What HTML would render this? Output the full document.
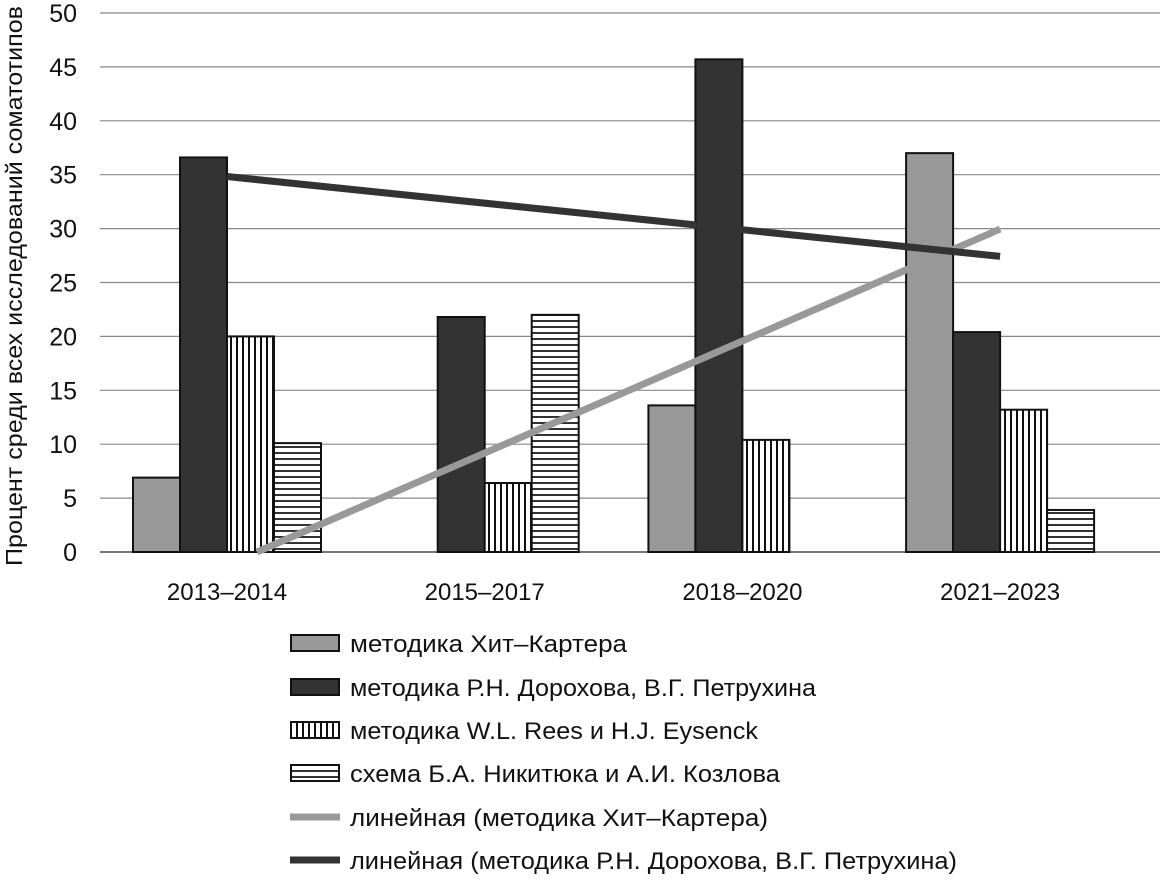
<!DOCTYPE html>
<html><head><meta charset="utf-8"><style>
html,body{margin:0;padding:0;background:#fff;}
svg text{font-family:"Liberation Sans",sans-serif;fill:#111;}
</style></head><body>
<svg id="chart" width="1174" height="880" xmlns="http://www.w3.org/2000/svg">
<defs>
<pattern id="vert" width="6" height="10" patternUnits="userSpaceOnUse"><rect width="6" height="10" fill="#fff"/><rect x="2" width="2" height="10" fill="#111"/></pattern>
<pattern id="horiz" width="10" height="6" patternUnits="userSpaceOnUse"><rect width="10" height="6" fill="#fff"/><rect y="2" width="10" height="2" fill="#333"/></pattern>
</defs>
<g id="grid"></g><g id="bars"></g><g id="trends"></g><g id="axes"></g><g id="legend"></g>
<text transform="translate(22,286) rotate(-90)" text-anchor="middle" font-size="23" textLength="560" lengthAdjust="spacingAndGlyphs">Процент среди всех исследований соматотипов</text>
</svg>
<script>
const categories=["2013–2014","2015–2017","2018–2020","2021–2023"];
const heathCarter=[6.9,0,13.6,37];
const dorokhov=[36.6,21.8,45.7,20.4];
const reesEysenck=[20,6.4,10.4,13.2];
const nikityuk=[10.1,22,0,3.9];
const yTicks=[0,5,10,15,20,25,30,35,40,45,50];
const seriesNames=["методика Хит–Картера","методика Р.Н. Дорохова, В.Г. Петрухина","методика W.L. Rees и H.J. Eysenck","схема Б.А. Никитюка и А.И. Козлова","линейная (методика Хит–Картера)","линейная (методика Р.Н. Дорохова, В.Г. Петрухина)"];

const NS="http://www.w3.org/2000/svg";
const y0=552,y50=13;
const yScale=v=>y0-(v/50)*(y0-y50);
const xCenter=i=>227+i*257.7;
const barW=47;
function mk(tag,attrs,parent){const e=document.createElementNS(NS,tag);for(const k in attrs)e.setAttribute(k,attrs[k]);parent.appendChild(e);return e;}
const grid=document.getElementById('grid'),bars=document.getElementById('bars'),trends=document.getElementById('trends'),axes=document.getElementById('axes'),legend=document.getElementById('legend');
yTicks.forEach(t=>{
  const l=mk('line',{x1:100,x2:1160,y1:yScale(t),y2:yScale(t),stroke:t===0?'#777':'#888','stroke-width':t===0?2:1.2},grid);
  
  
  const tx=mk('text',{x:77,y:yScale(t)+9,'text-anchor':'end','font-size':25},axes);
  
  
  tx.textContent=t;
});
categories.forEach((c,i)=>{
  const tx=mk('text',{x:xCenter(i),y:600,'text-anchor':'middle','font-size':24},axes);
  
  
  tx.textContent=c;
});
const series=[[heathCarter,'#999','#111'],[dorokhov,'#333','#111'],[reesEysenck,'url(#vert)','#111'],[nikityuk,'url(#horiz)','#111']];
series.forEach((s,si)=>{
  s[0].forEach((v,i)=>{
    if(v<=0)return;
    const x=xCenter(i)-2*barW+si*barW;
    const r=mk('rect',{x:x,y:yScale(v),width:barW,height:y0-yScale(v),fill:s[1],stroke:s[2],'stroke-width':2},bars);
    
    
  });
});
function trend(vals){const n=vals.length;const xs=vals.map((_,i)=>i);const mx=xs.reduce((a,b)=>a+b)/n;const my=vals.reduce((a,b)=>a+b)/n;let num=0,den=0;xs.forEach((x,i)=>{num+=(x-mx)*(vals[i]-my);den+=(x-mx)*(x-mx);});const s=num/den;return [s,my-s*mx];}
[[heathCarter,'#999'],[dorokhov,'#333']].forEach((t,ti)=>{
  const [s,b]=trend(t[0]);
  let xa=0,ya=b;const xb=3,yb=s*3+b;
  if(ya<0){xa=-b/s;ya=0;}
  const l=mk('line',{x1:xCenter(0)+xa*257.7,y1:yScale(ya),x2:xCenter(xb),y2:yScale(yb),stroke:t[1],'stroke-width':7},trends);
  
  
});
const legY=[643,687,730,773,817,860];
const sw=[['#999','#111'],['#333','#111'],['url(#vert)','#111'],['url(#horiz)','#111']];
seriesNames.forEach((n,i)=>{
  const g=mk('g',{},legend);
  
  
  if(i<4){mk('rect',{x:291,y:legY[i]-8,width:48,height:16,fill:sw[i][0],stroke:sw[i][1],'stroke-width':2},g);}
  else{mk('line',{x1:290,x2:340,y1:legY[i],y2:legY[i],stroke:i===4?'#999':'#333','stroke-width':7},g);}
  const tx=mk('text',{x:350,y:legY[i]+9,'font-size':24},g);
  tx.textContent=n;
  const w=[277,466,408,430,418,607][i];
  tx.setAttribute('textLength',w);
  tx.setAttribute('lengthAdjust','spacingAndGlyphs');
});
</script>
</body></html>
